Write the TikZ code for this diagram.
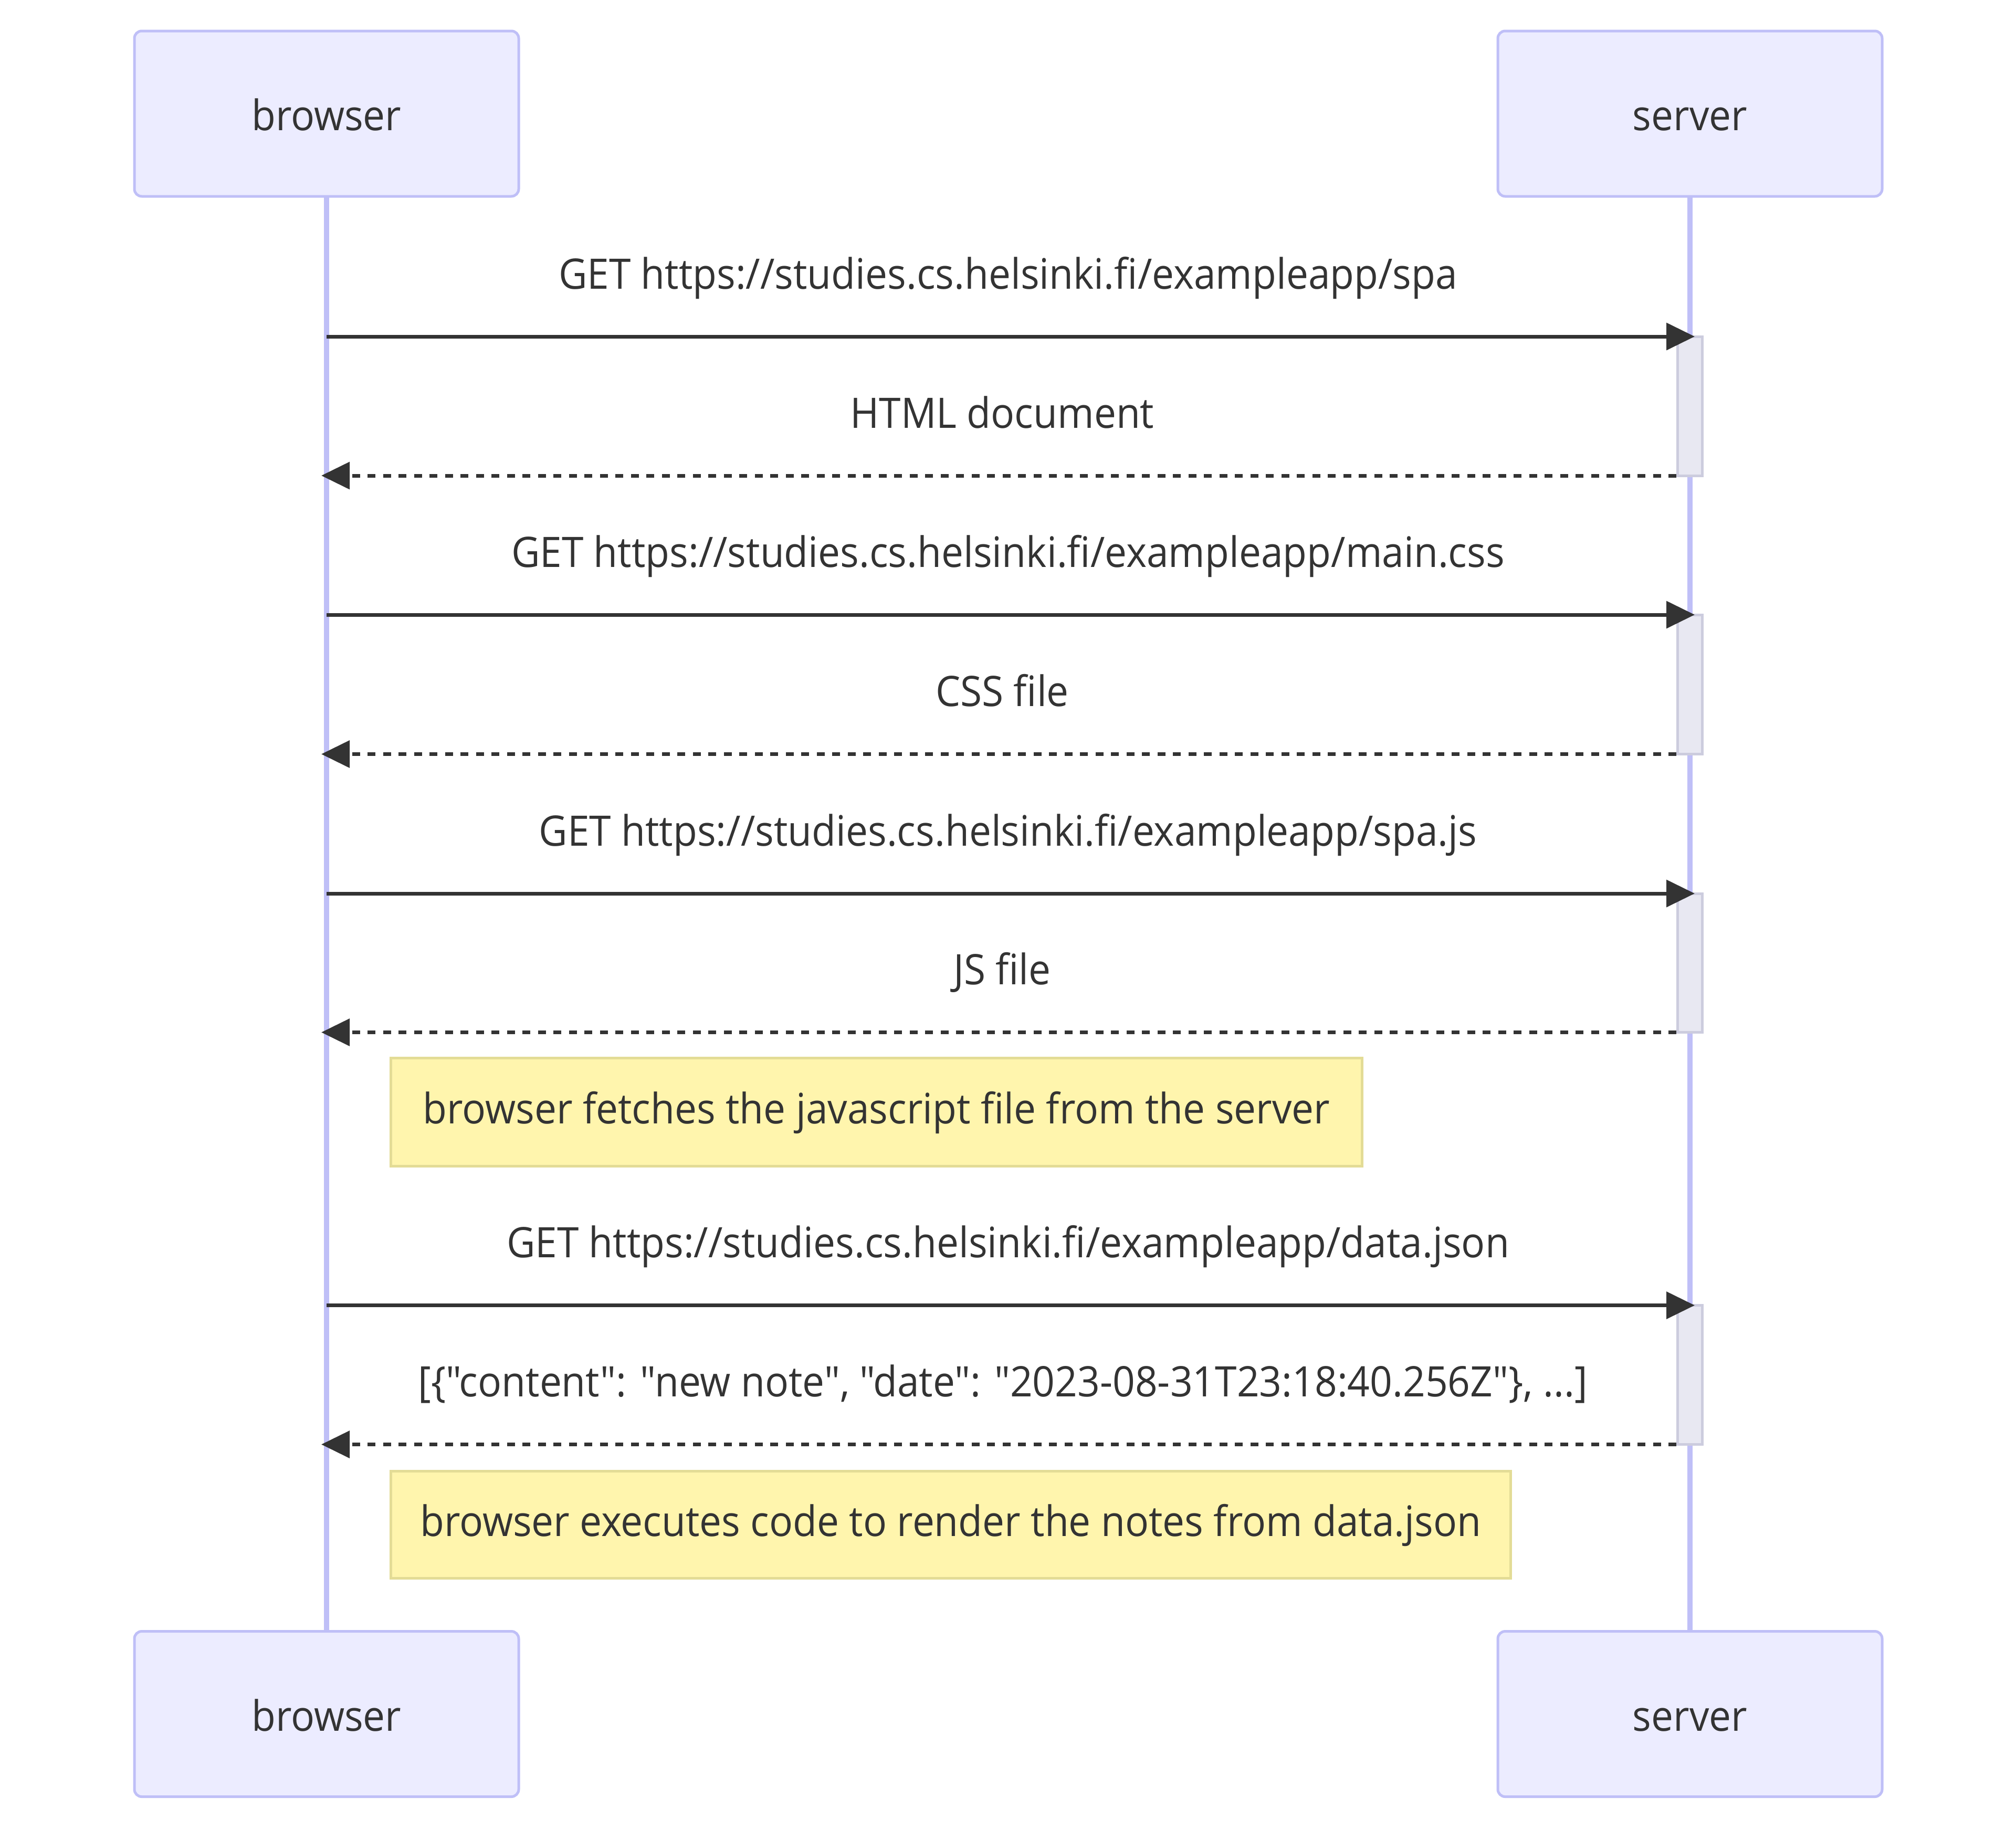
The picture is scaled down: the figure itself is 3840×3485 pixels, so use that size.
\documentclass[tikz,border=0pt]{standalone}
\usepackage{fontspec}
\setmainfont{Open Sans}[Ligatures=TeXOff, FakeStretch=0.935]
\usetikzlibrary{arrows.meta}
\definecolor{actfill}{HTML}{ECECFF}
\definecolor{actline}{RGB}{191,191,247}
\definecolor{ink}{HTML}{333333}
\definecolor{notefill}{HTML}{FFF5AD}
\definecolor{noteline}{RGB}{227,220,150}
\definecolor{actvfill}{RGB}{232,232,242}
\definecolor{actvline}{RGB}{204,204,222}
\begin{document}
\begin{tikzpicture}[x=1pt,y=-1pt,
  every node/.style={inner sep=0pt, outer sep=0pt, text=ink, font=\fontsize{80}{96}\selectfont},
  actor/.style={draw=actline, fill=actfill, line width=5pt, rounded corners=14pt,
    minimum width=732pt, minimum height=315pt, text height=64pt, text depth=0pt},
  life/.style={draw=actline, line width=10pt},
  activation/.style={draw=actvline, fill=actvfill, line width=5pt, minimum width=47pt},
  notebox/.style={draw=noteline, fill=notefill, line width=5pt, text height=43pt, text depth=0pt},
  msglabel/.style={anchor=base},
  request/.style={draw=ink, line width=7pt, -{Triangle[length=54pt,width=51pt]}},
  reply/.style={draw=ink, line width=7pt, dash pattern=on 15pt off 14.5pt, -{Triangle[length=54pt,width=51pt]}}
]
\useasboundingbox (0,0) rectangle (3840,3485);

% actors
\node[actor] (bT) at (622,216.5) {browser};
\node[actor] (sT) at (3219,216.5) {server};
\node[actor] (bB) at (622,3265) {browser};
\node[actor] (sB) at (3219,3265) {server};

% lifelines
\draw[life] (bT.south) -- (bB.north);
\draw[life] (sT.south) -- (sB.north);

% activations
\node[activation, minimum height=265pt] (act1) at (3219,773.5) {};
\node[activation, minimum height=265.5pt] (act2) at (3219,1303.75) {};
\node[activation, minimum height=264.5pt] (act3) at (3219,1834.25) {};
\node[activation, minimum height=265pt] (act4) at (3219,2619) {};

% message end points
\coordinate (b1) at (622,641);    \coordinate (s1) at (3228,641);
\coordinate (s2) at (3193,906);   \coordinate (b2) at (612,906);
\coordinate (b3) at (622,1171);   \coordinate (s3) at (3228,1171);
\coordinate (s4) at (3193,1436.5);\coordinate (b4) at (612,1436.5);
\coordinate (b5) at (622,1702);   \coordinate (s5) at (3228,1702);
\coordinate (s6) at (3193,1966.5);\coordinate (b6) at (612,1966.5);
\coordinate (b7) at (622,2486.5); \coordinate (s7) at (3228,2486.5);
\coordinate (s8) at (3193,2751.5);\coordinate (b8) at (612,2751.5);

% messages
\draw[request] (b1) -- (s1);
\node[msglabel] (l1) at (1920,550) {GET https://studies.cs.helsinki.fi/exampleapp/spa};
\draw[reply] (s2) -- (b2);
\node[msglabel] (l2) at (1909,815) {HTML document};
\draw[request] (b3) -- (s3);
\node[msglabel] (l3) at (1920,1080) {GET https://studies.cs.helsinki.fi/exampleapp/main.css};
\draw[reply] (s4) -- (b4);
\node[msglabel] (l4) at (1909,1345.5) {CSS file};
\draw[request] (b5) -- (s5);
\node[msglabel] (l5) at (1920,1611) {GET https://studies.cs.helsinki.fi/exampleapp/spa.js};
\draw[reply] (s6) -- (b6);
\node[msglabel] (l6) at (1909,1875.5) {JS file};

\node[notebox, minimum width=1850pt, minimum height=206pt] (n1) at (1669.5,2118.5)
  {browser fetches the javascript file from the server};

\draw[request] (b7) -- (s7);
\node[msglabel] (l7) at (1920,2395.5) {GET https://studies.cs.helsinki.fi/exampleapp/data.json};
\draw[reply] (s8) -- (b8);
\node[msglabel] (l8) at (1910,2660.5) {[\{"content": "new note", "date": "2023-08-31T23:18:40.256Z"\}, ...]};

\node[notebox, minimum width=2133pt, minimum height=204pt] (n2) at (1811,2904.5)
  {browser executes code to render the notes from data.json};
\end{tikzpicture}
\end{document}
